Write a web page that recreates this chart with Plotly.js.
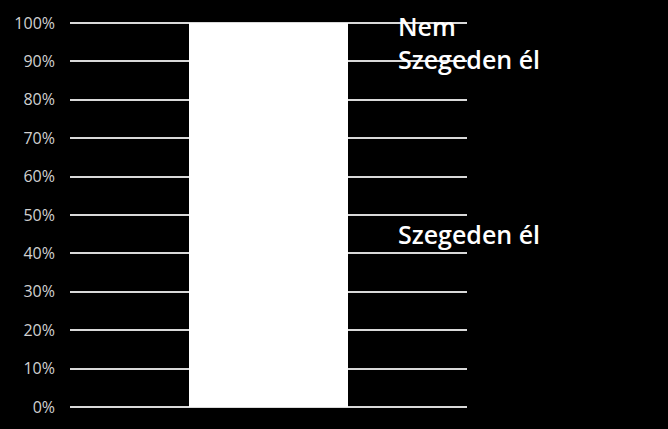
<!DOCTYPE html>
<html>
<head>
<meta charset="utf-8">
<script src="https://cdn.plot.ly/plotly-3.0.1.min.js"></script>
<style>
  html, body { margin: 0; padding: 0; background: #000; }
  #chart { width: 668px; height: 429px; }
</style>
</head>
<body>
<div id="chart"></div>
<script>
// one stacked 100% column, both parts white
var categories = [''];
var seriesNames = ['Szegeden él', 'Nem Szegeden él'];
var seriesLabels = ['Szegeden él', 'Nem<br>Szegeden él'];
var szegedenEl = [90];
var nemSzegedenEl = [10];
var tickVals = [0, 10, 20, 30, 40, 50, 60, 70, 80, 90, 100];
var tickText = ['0%', '10%', '20%', '30%', '40%', '50%', '60%', '70%', '80%', '90%', '100%'];

var values = [szegedenEl, nemSzegedenEl];
var data = [];
var annotations = [];
var base = 0;
values.forEach(function (vals, i) {
    data.push({
        type: 'bar',
        x: categories,
        y: vals,
        name: seriesNames[i],
        marker: { color: '#ffffff', line: { width: 0 } },
        hoverinfo: 'name+y'
    });
    // series name sits on the right, at the middle of its segment
    annotations.push({
        xref: 'paper', yref: 'y',
        x: 0.822, y: base + vals[0] / 2,
        xanchor: 'left', yanchor: 'middle', align: 'left',
        text: seriesLabels[i],
        showarrow: false,
        font: { family: 'Open Sans', size: 25, color: '#ffffff', weight: 600 }
    });
    base += vals[0];
});

var layout = {
    barmode: 'stack',
    bargap: 0.6,
    showlegend: false,
    paper_bgcolor: '#000000',
    plot_bgcolor: '#000000',
    margin: { l: 70, r: 201, t: 21, b: 20 },
    xaxis: { showticklabels: false, showgrid: false, zeroline: false, showline: false },
    yaxis: {
        range: [-0.5, 100.5],
        tickvals: tickVals,
        ticktext: tickText,
        tickfont: { family: 'Open Sans', size: 16, color: '#d0d0d0' },
        ticklabelstandoff: 14,
        showgrid: true,
        gridcolor: '#d9d9d9',
        gridwidth: 2,
        zeroline: false,
        showline: false
    },
    annotations: annotations
};

Plotly.newPlot('chart', data, layout, { displayModeBar: false, staticPlot: true });
</script>
</body>
</html>
